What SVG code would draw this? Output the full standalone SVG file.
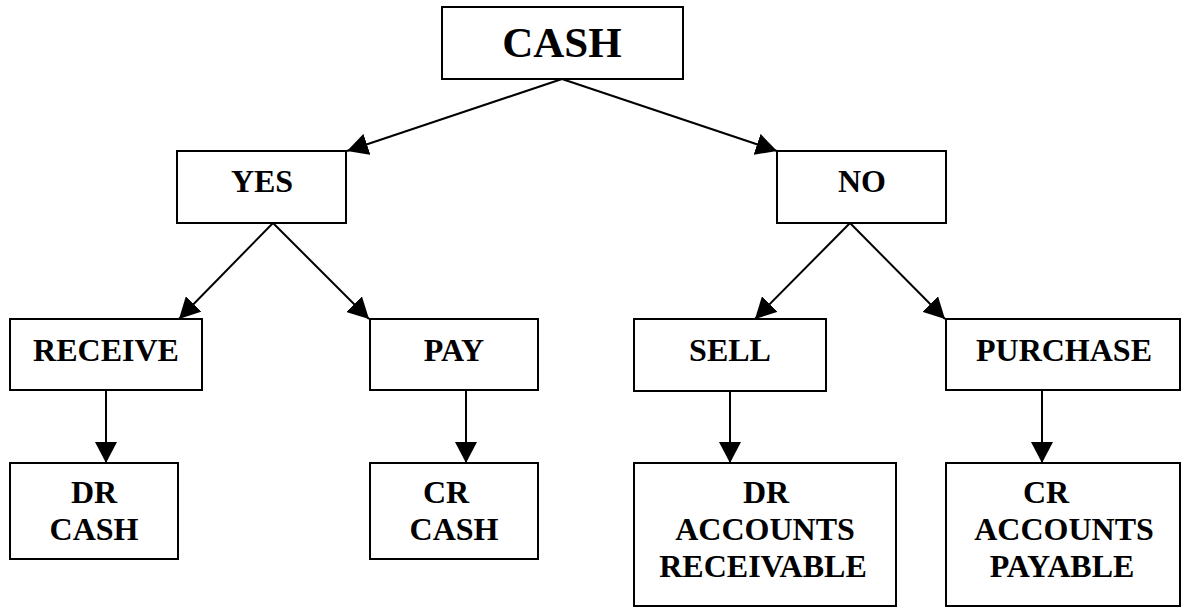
<svg xmlns="http://www.w3.org/2000/svg" width="1184" height="607" viewBox="0 0 1184 607">
  <style>
    .box { fill: #ffffff; stroke: #000000; stroke-width: 2; }
    .lbl { font-family: "Liberation Serif", "Times New Roman", serif; font-weight: bold; font-size: 32px; fill: #000000; text-anchor: middle; }
    .big { font-size: 43px; }
    .conn { stroke: #000000; stroke-width: 2; fill: none; marker-end: url(#arrow); }
  </style>
  <defs>
    <marker id="arrow" markerUnits="userSpaceOnUse" markerWidth="21" markerHeight="22" refX="21" refY="11" orient="auto">
      <path d="M0,0 L21,11 L0,22 Z" fill="#000000"/>
    </marker>
  </defs>
  <rect width="1184" height="607" fill="#ffffff"/>

  <g id="connectors">
    <line class="conn" x1="562" y1="79" x2="347" y2="151"/>
    <line class="conn" x1="562" y1="79" x2="777" y2="151"/>
    <line class="conn" x1="273" y1="223" x2="179" y2="319"/>
    <line class="conn" x1="273" y1="223" x2="369" y2="319"/>
    <line class="conn" x1="850" y1="223" x2="755" y2="319"/>
    <line class="conn" x1="850" y1="223" x2="945" y2="319"/>
    <line class="conn" x1="106" y1="390" x2="106" y2="463"/>
    <line class="conn" x1="466" y1="390" x2="466" y2="463"/>
    <line class="conn" x1="730" y1="391" x2="730" y2="463"/>
    <line class="conn" x1="1042" y1="390" x2="1042" y2="463"/>
  </g>

  <g id="cash">
    <rect class="box" x="442" y="7" width="241" height="72"/>
    <text class="lbl big" x="562" y="57">CASH</text>
  </g>
  <g id="yes">
    <rect class="box" x="177" y="151" width="169" height="72"/>
    <text class="lbl" x="262" y="192">YES</text>
  </g>
  <g id="no">
    <rect class="box" x="777" y="151" width="169" height="72"/>
    <text class="lbl" x="862" y="192">NO</text>
  </g>
  <g id="receive">
    <rect class="box" x="10" y="319" width="192" height="71"/>
    <text class="lbl" x="106" y="361">RECEIVE</text>
  </g>
  <g id="pay">
    <rect class="box" x="370" y="319" width="168" height="71"/>
    <text class="lbl" x="454" y="361">PAY</text>
  </g>
  <g id="sell">
    <rect class="box" x="634" y="319" width="192" height="72"/>
    <text class="lbl" x="730" y="361">SELL</text>
  </g>
  <g id="purchase">
    <rect class="box" x="946" y="319" width="234" height="71"/>
    <text class="lbl" x="1064" y="361">PURCHASE</text>
  </g>
  <g id="dr-cash">
    <rect class="box" x="10" y="463" width="168" height="96"/>
    <text class="lbl" x="94" y="503">DR</text>
    <text class="lbl" x="94" y="540">CASH</text>
  </g>
  <g id="cr-cash">
    <rect class="box" x="370" y="463" width="168" height="96"/>
    <text class="lbl" x="446" y="503">CR</text>
    <text class="lbl" x="454" y="540">CASH</text>
  </g>
  <g id="dr-accounts-receivable">
    <rect class="box" x="634" y="463" width="262" height="143"/>
    <text class="lbl" x="766" y="503">DR</text>
    <text class="lbl" x="765" y="540">ACCOUNTS</text>
    <text class="lbl" x="763" y="577">RECEIVABLE</text>
  </g>
  <g id="cr-accounts-payable">
    <rect class="box" x="946" y="463" width="234" height="143"/>
    <text class="lbl" x="1046" y="503">CR</text>
    <text class="lbl" x="1064" y="540">ACCOUNTS</text>
    <text class="lbl" x="1062" y="577">PAYABLE</text>
  </g>
</svg>
